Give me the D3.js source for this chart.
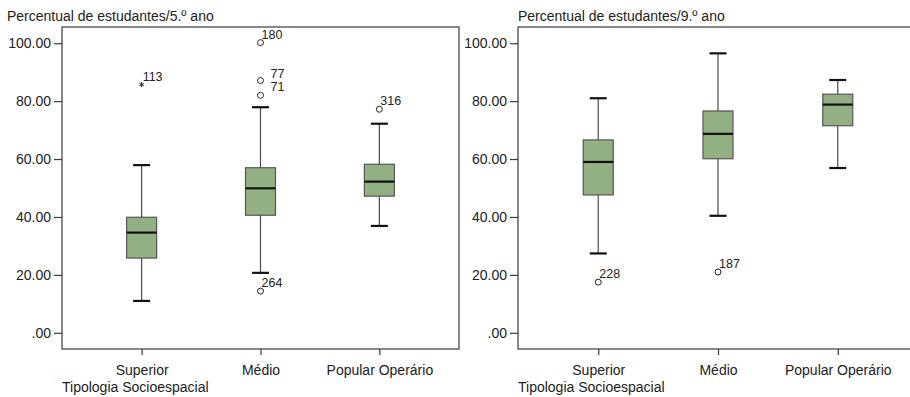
<!DOCTYPE html>
<html>
<head>
<meta charset="utf-8">
<script src="https://cdn.jsdelivr.net/npm/d3@7"></script>
<style>
  body { margin: 0; background: #fff; }
  svg { display: block; font-family: "Liberation Sans", Arial, sans-serif; }
</style>
</head>
<body>
<div id="chart"></div>
<script>
// Boxplots: percentual de estudantes por tipologia socioespacial (5.º e 9.º ano)
const categories = ['Superior', 'Médio', 'Popular Operário'];
const yTicks = [0, 20, 40, 60, 80, 100];

// [lower whisker, Q1, median, Q3, upper whisker]
const stats5 = [
  [11.0, 25.8, 34.6, 39.9, 57.9],
  [20.7, 40.6, 49.9, 57.0, 77.9],
  [36.9, 47.2, 52.2, 58.2, 72.2]
];
const stats9 = [
  [27.4, 47.6, 59.0, 66.6, 81.0],
  [40.4, 60.1, 68.7, 76.6, 96.5],
  [56.9, 71.5, 78.8, 82.4, 87.3]
];

// outliers: category, value, case label, kind
const outliers5 = [
  { cat: 'Superior', value: 85.7, label: '113', extreme: true },
  { cat: 'Médio', value: 100.2, label: '180' },
  { cat: 'Médio', value: 87.1, label: '77' },
  { cat: 'Médio', value: 82.0, label: '71' },
  { cat: 'Médio', value: 14.4, label: '264' },
  { cat: 'Popular Operário', value: 77.2, label: '316' }
];
const outliers9 = [
  { cat: 'Superior', value: 17.5, label: '228' },
  { cat: 'Médio', value: 21.0, label: '187' }
];

// label nudges (SPSS pushes some labels aside to avoid overlap)
const labelShift = { '77': [10, -3], '71': [10, -4] };

const width = 910, height = 397;
const svg = d3.select('#chart').append('svg')
  .attr('width', width)
  .attr('height', height);

const y = d3.scaleLinear().domain([-5.6, 105.6]).range([349, 27]);

function drawPanel(left, right, title, stats, outliers) {
  const x = d3.scalePoint().domain(categories).range([left, right]).padding(0.67);
  const g = svg.append('g');
  const boxW = 30, capW = 17;

  // frame
  g.append('rect')
    .attr('x', left).attr('y', 27)
    .attr('width', right - left).attr('height', 349 - 27)
    .attr('fill', 'none').attr('stroke', '#3a3a3a').attr('stroke-width', 1.2);

  // y axis
  const yAxis = g.append('g')
    .attr('transform', `translate(${left},0)`)
    .call(d3.axisLeft(y).tickValues(yTicks).tickSize(8).tickPadding(3)
      .tickFormat(d => d === 0 ? '.00' : d3.format('.2f')(d)));
  yAxis.select('.domain').remove();
  yAxis.selectAll('line').attr('stroke', '#3a3a3a').attr('stroke-width', 1.2);
  yAxis.selectAll('text').attr('font-size', 14).attr('fill', '#222')
    .attr('font-family', '"Liberation Sans", Arial, sans-serif');

  // x axis
  const xAxis = g.append('g')
    .attr('transform', 'translate(0,349)')
    .call(d3.axisBottom(x).tickSize(6).tickPadding(10));
  xAxis.select('.domain').remove();
  xAxis.selectAll('line').attr('stroke', '#3a3a3a').attr('stroke-width', 1.2);
  xAxis.selectAll('text').attr('font-size', 14).attr('fill', '#222')
    .attr('font-family', '"Liberation Sans", Arial, sans-serif');

  // titles
  g.append('text')
    .attr('x', left === 62 ? 7 : left).attr('y', 21)
    .attr('font-size', 14).attr('fill', '#222')
    .text(title);
  g.append('text')
    .attr('x', left).attr('y', 392)
    .attr('font-size', 14).attr('fill', '#222')
    .text('Tipologia Socioespacial');

  const boxes = g.selectAll('.box')
    .data(stats.map((s, i) => ({ cat: categories[i], s })))
    .join('g').attr('class', 'box');

  // whisker stems
  boxes.append('line')
    .attr('x1', d => x(d.cat)).attr('x2', d => x(d.cat))
    .attr('y1', d => y(d.s[0])).attr('y2', d => y(d.s[4]))
    .attr('stroke', '#4a4a4a').attr('stroke-width', 1.2);

  // caps
  boxes.selectAll('.cap')
    .data(d => [d.s[0], d.s[4]].map(v => ({ cat: d.cat, v })))
    .join('line').attr('class', 'cap')
    .attr('x1', d => x(d.cat) - capW / 2).attr('x2', d => x(d.cat) + capW / 2)
    .attr('y1', d => y(d.v)).attr('y2', d => y(d.v))
    .attr('stroke', '#111').attr('stroke-width', 2.2);

  // box
  boxes.append('rect')
    .attr('x', d => x(d.cat) - boxW / 2)
    .attr('y', d => y(d.s[3]))
    .attr('width', boxW)
    .attr('height', d => y(d.s[1]) - y(d.s[3]))
    .attr('fill', '#93b083').attr('stroke', '#555').attr('stroke-width', 1.2);

  // median
  boxes.append('line')
    .attr('x1', d => x(d.cat) - boxW / 2).attr('x2', d => x(d.cat) + boxW / 2)
    .attr('y1', d => y(d.s[2])).attr('y2', d => y(d.s[2]))
    .attr('stroke', '#111').attr('stroke-width', 2.2);

  // outliers
  const out = g.selectAll('.outlier')
    .data(outliers)
    .join('g').attr('class', 'outlier')
    .attr('transform', d => `translate(${x(d.cat)},${y(d.value)})`);

  out.filter(d => !d.extreme).append('circle')
    .attr('r', 3).attr('fill', '#fff').attr('stroke', '#222').attr('stroke-width', 1);
  out.filter(d => d.extreme).append('path')
    .attr('d', d3.symbol(d3.symbolAsterisk, 18))
    .attr('fill', 'none').attr('stroke', '#222').attr('stroke-width', 1);

  out.append('text')
    .attr('x', d => (labelShift[d.label] || [1, -4])[0])
    .attr('y', d => (labelShift[d.label] || [1, -4])[1])
    .attr('font-size', 12.5).attr('fill', '#222')
    .text(d => d.label);
}

drawPanel(62, 459, 'Percentual de estudantes/5.º ano', stats5, outliers5);
drawPanel(518, 918, 'Percentual de estudantes/9.º ano', stats9, outliers9);
</script>
</body>
</html>
